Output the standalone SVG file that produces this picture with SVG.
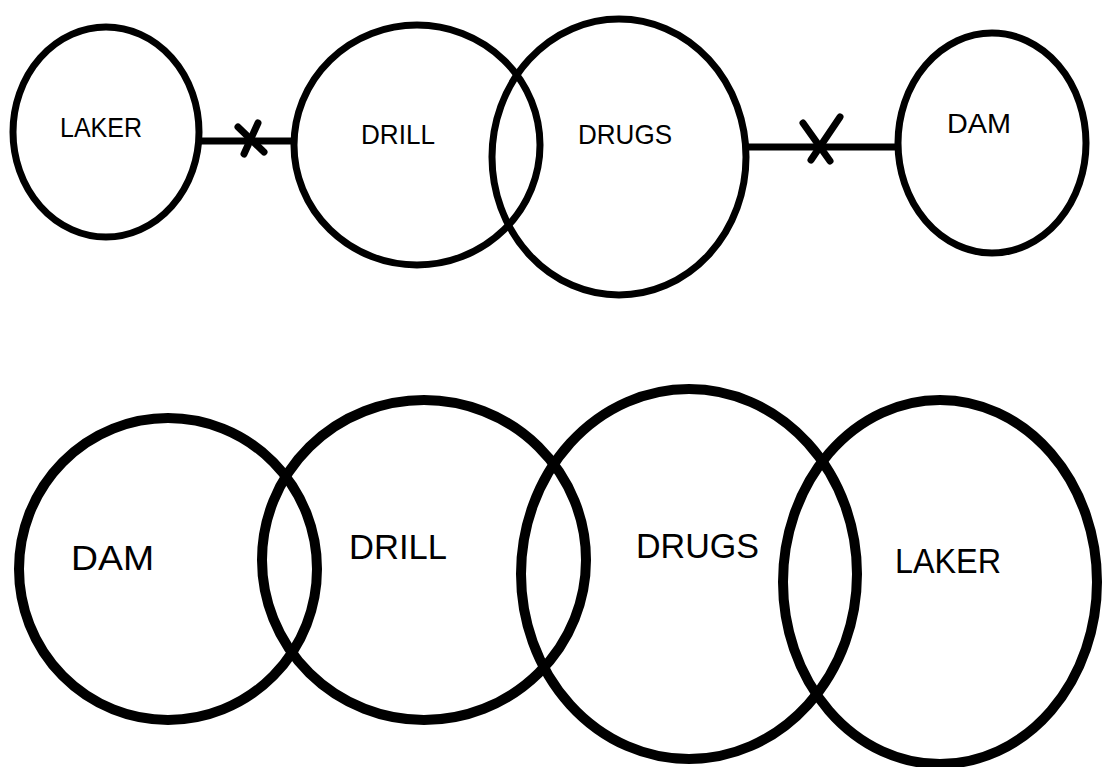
<svg xmlns="http://www.w3.org/2000/svg" width="1102" height="767" viewBox="0 0 1102 767">
  <style>
    .node { fill: none; stroke: #000; }
    .top { stroke-width: 7; }
    .bot { stroke-width: 10; }
    .lbl { font-family: "Liberation Sans", Arial, sans-serif; fill: #000; }
    .s { font-size: 28px; }
    .b { font-size: 35px; }
    .conn { stroke: #000; stroke-width: 7; fill: none; }
    .x { stroke: #000; stroke-width: 7; stroke-linecap: round; fill: none; }
  </style>
  <rect width="1102" height="767" fill="#fff"/>

  <g id="connectors">
    <line class="conn" x1="199" y1="141" x2="294" y2="141"/>
    <line class="x" x1="238" y1="127" x2="264" y2="152"/>
    <line class="x" x1="258" y1="123" x2="244" y2="154"/>
    <line class="conn" x1="746" y1="147" x2="898" y2="147"/>
    <line class="x" x1="803" y1="123" x2="830" y2="161"/>
    <line class="x" x1="840" y1="117" x2="811" y2="160"/>
  </g>

  <g id="top-laker">
    <ellipse class="node top" cx="106" cy="132" rx="93" ry="105"/>
    <text class="lbl s" x="60" y="137" textLength="82" lengthAdjust="spacingAndGlyphs">LAKER</text>
  </g>
  <g id="top-drill">
    <ellipse class="node top" cx="417" cy="145" rx="123" ry="120"/>
    <text class="lbl s" x="361" y="144" textLength="74" lengthAdjust="spacingAndGlyphs">DRILL</text>
  </g>
  <g id="top-drugs">
    <ellipse class="node top" cx="619" cy="157" rx="127" ry="138"/>
    <text class="lbl s" x="578" y="144" textLength="94" lengthAdjust="spacingAndGlyphs">DRUGS</text>
  </g>
  <g id="top-dam">
    <ellipse class="node top" cx="992" cy="143" rx="94" ry="110"/>
    <text class="lbl s" x="947" y="133" textLength="64" lengthAdjust="spacingAndGlyphs">DAM</text>
  </g>

  <g id="bottom-dam">
    <ellipse class="node bot" cx="168" cy="569" rx="149" ry="151"/>
    <text class="lbl b" x="71" y="570" textLength="83" lengthAdjust="spacingAndGlyphs">DAM</text>
  </g>
  <g id="bottom-drill">
    <ellipse class="node bot" cx="424" cy="560" rx="162" ry="160"/>
    <text class="lbl b" x="349" y="559" textLength="98" lengthAdjust="spacingAndGlyphs">DRILL</text>
  </g>
  <g id="bottom-drugs">
    <ellipse class="node bot" cx="689" cy="574" rx="168" ry="185"/>
    <text class="lbl b" x="636" y="558" textLength="123" lengthAdjust="spacingAndGlyphs">DRUGS</text>
  </g>
  <g id="bottom-laker">
    <ellipse class="node bot" cx="940" cy="582" rx="157" ry="182"/>
    <text class="lbl b" x="895" y="573" textLength="106" lengthAdjust="spacingAndGlyphs">LAKER</text>
  </g>
</svg>
